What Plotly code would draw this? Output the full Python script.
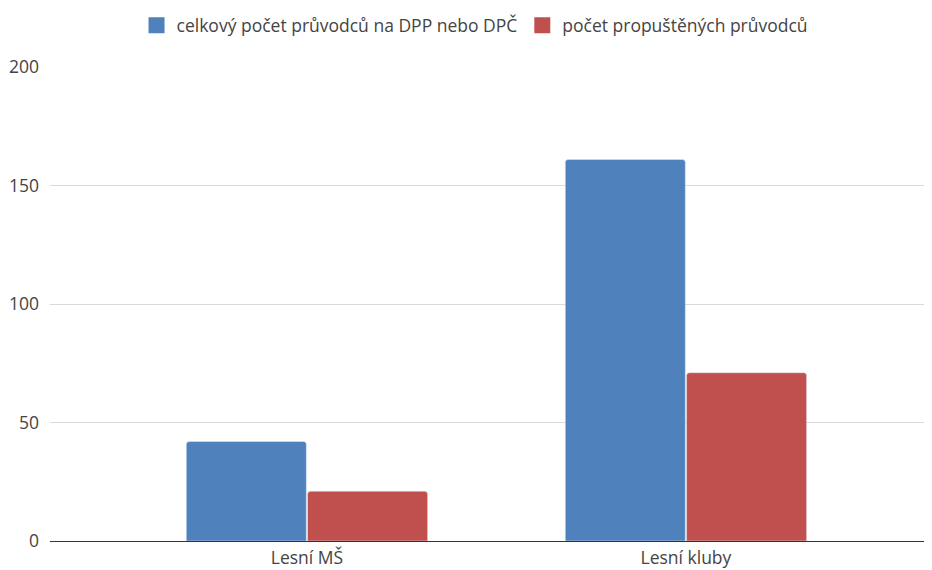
import plotly.graph_objects as go

categories = ["Lesní MŠ", "Lesní kluby"]
celkem = [42, 161]
propusteno = [21, 71]
series_names = ["celkový počet průvodců na DPP nebo DPČ", "počet propuštěných průvodců"]
y_ticks = [0, 50, 100, 150, 200]

BLUE = "#4F81BD"
RED = "#C0504D"
INK = "#444444"
colors = [BLUE, RED]

fig = go.Figure()
for name, vals, col in zip(series_names, [celkem, propusteno], colors):
    fig.add_trace(go.Bar(x=categories, y=vals, name=name, marker_color=col, showlegend=False))

# legend-only markers, bigger squares like the original
for name, col in zip(series_names, colors):
    fig.add_trace(go.Scatter(
        x=[None], y=[None], mode="markers", name=name,
        marker=dict(symbol="square", size=21, color=col),
    ))

# page body has an 8px default margin, so the figure is sized/offset to fit the window
fig.update_layout(
    width=924,
    height=562,
    margin=dict(l=42, r=2, t=59, b=29, autoexpand=False),
    paper_bgcolor="white",
    plot_bgcolor="white",
    font=dict(family="Open Sans", size=15, color=INK),
    barmode="group",
    bargap=0.36,
    bargroupgap=0.01,
    barcornerradius=3,
    legend=dict(
        orientation="h",
        x=0.483,
        xanchor="center",
        y=1.088,
        yanchor="middle",
        font=dict(size=17.5, color=INK),
        itemwidth=30,
    ),
)
fig.update_xaxes(
    type="category",
    range=[-0.678, 1.644],
    showgrid=False,
    showline=True,
    linecolor="#333333",
    linewidth=1,
    ticks="",
    ticklabelstandoff=1,
    tickfont=dict(size=17.5, color=INK),
)
fig.update_yaxes(
    range=[0, 200],
    tickvals=y_ticks,
    showgrid=True,
    gridcolor="#d9d9d9",
    gridwidth=1,
    zeroline=True,
    zerolinecolor="#333333",
    zerolinewidth=1,
    ticks="",
    ticklabelstandoff=10,
    tickfont=dict(size=17.5, color=INK),
)

fig.write_html("out.html")
